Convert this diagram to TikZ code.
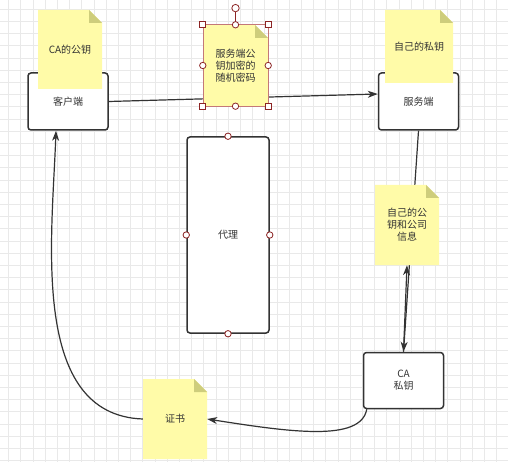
\documentclass[tikz,border=0pt]{standalone}
\usepackage{fontspec}
\newfontfamily\cjk{Noto Sans CJK SC}
\usetikzlibrary{arrows.meta,positioning,backgrounds}
\definecolor{inkgray}{RGB}{51,51,51}
\definecolor{gridgray}{RGB}{233,233,233}
\definecolor{notefill}{RGB}{255,251,168}
\definecolor{notefold}{RGB}{206,205,124}
\definecolor{selred}{RGB}{140,36,36}
\definecolor{selline}{RGB}{196,120,120}

\begin{document}
\begin{tikzpicture}[
x=1pt, y=-1pt,
box/.style={draw=inkgray, line width=1.5pt, rounded corners=3pt, fill=white, align=center, text=inkgray, font=\cjk\fontsize{10}{12}\selectfont, minimum width=80pt, minimum height=57pt, inner sep=0pt},
note/.style={align=center, text=inkgray, font=\cjk\fontsize{10}{12}\selectfont, inner sep=0pt, minimum width=64pt, minimum height=80pt,
  path picture={
    \fill[notefill] (path picture bounding box.south west) -- (path picture bounding box.north west) -- ([xshift=-13pt]path picture bounding box.north east) -- ([yshift=-13pt]path picture bounding box.north east) -- (path picture bounding box.south east) -- cycle;
    \fill[notefold] ([xshift=-13pt]path picture bounding box.north east) -- ([xshift=-13pt,yshift=-13pt]path picture bounding box.north east) -- ([yshift=-13pt]path picture bounding box.north east) -- cycle;}},
conn/.style={draw=inkgray, line width=1.2pt, -{Stealth[length=10pt,width=7pt,inset=3pt]}},
handle/.style={draw=selred, fill=white, line width=0.8pt},
gridline/.style={draw=gridgray, line width=0.6pt}
]
\useasboundingbox (0,0) rectangle (508,462);

% grid
\begin{scope}[on background layer]
\fill[white] (0,0) rectangle (508,462);
\foreach \gx in {0,...,40}
  \draw[gridline] (8.4+12.2*\gx,0) -- (8.4+12.2*\gx,462);
\foreach \gy in {0,...,37}
  \draw[gridline] (0,9.1+12.2*\gy) -- (508,9.1+12.2*\gy);
\end{scope}

% boxes
\node[box] (client) at (68,101.5) {客户端};
\node[box, right=269pt of client] (server) {服务端};
\node[box, minimum width=82pt, minimum height=196pt] (proxy) at (228,235) {代理};
\node[box, minimum height=56pt, below=221pt of server, xshift=-15pt] (ca) {CA\\私钥};

% notes
\node[note, minimum height=79pt] (noteca) at (70,49.5) {CA的公钥};
\node[note, minimum width=65pt, minimum height=81pt] (notekey) at (235.5,65.5) {服务端公\\钥加密的\\随机密码};
\node[note, minimum width=68pt, minimum height=73pt] (notepriv) at (419,46.5) {自己的私钥};
\node[note] (notepub) at (407,225) {自己的公\\钥和公司\\信息};
\node[note] (notecert) at (175,419) {证书};

% connectors
\begin{scope}[on background layer]
\draw[conn] (client.east) -- ([yshift=7.5pt]server.west);
\draw[conn] (server.south) -- (ca.north);
\draw[conn] (ca.north) -- (notepub.south);
\draw[conn] ([xshift=4pt]ca.south west) .. controls +(-6,33) and +(83,13) .. (notecert.east);
\draw[conn] (notecert.west) .. controls +(-113,-4) and +(-4,109) .. ([xshift=-12pt]client.south);
\end{scope}

% selection handles
\draw[selline, line width=0.6pt] (notekey.north west) rectangle (notekey.south east);
\draw[selred, line width=0.8pt] (notekey.north) -- ([yshift=13pt]notekey.north);
\foreach \a in {north west,north east,south west,south east}
  \draw[handle] ([xshift=-3pt,yshift=-3pt]notekey.\a) rectangle ([xshift=3pt,yshift=3pt]notekey.\a);
\foreach \a in {north,south,east,west}
  \draw[handle] (notekey.\a) circle[radius=3.2pt];
\draw[handle] ([yshift=16.7pt]notekey.north) circle[radius=3.7pt];
\foreach \a in {north,south,east,west}
  \draw[handle] (proxy.\a) circle[radius=3.2pt];
\end{tikzpicture}
\end{document}
